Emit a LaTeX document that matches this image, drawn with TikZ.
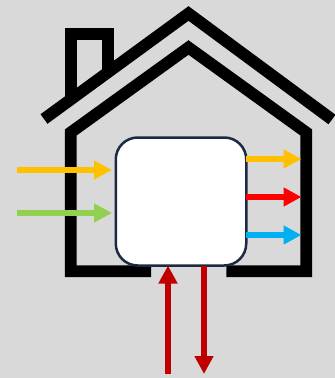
\documentclass[tikz,border=0pt]{standalone}
\usetikzlibrary{arrows.meta}
\definecolor{bgc}{HTML}{D9D9D9}
\definecolor{boxc}{HTML}{1B2A41}
\definecolor{inyel}{HTML}{FFC000}
\definecolor{ingrn}{HTML}{92D050}
\definecolor{outred}{HTML}{FF0000}
\definecolor{outblu}{HTML}{00B0F0}
\definecolor{drk}{HTML}{C00000}
\tikzset{
  housepart/.style={draw=black,line width=11.8pt,miter limit=10,line join=miter,line cap=butt},
  flow/.style={line width=6.8pt,-{Triangle[length=18pt,width=18pt]}},
  unitbox/.style={draw=boxc,fill=white,line width=2.5pt,rounded corners=22pt,minimum width=130.5pt,minimum height=128pt,inner sep=0pt,outer sep=0pt}
}
\begin{document}
\begin{tikzpicture}[x=1pt,y=-1pt]
\useasboundingbox[fill=bgc] (0,0) rectangle (335,378);
% chimney and roof
\draw[housepart] (70.7,100) -- (70.7,34.3) -- (108.2,34.3) -- (108.2,72);
\draw[housepart] (44,119) -- (188.5,13.5) -- (332,119.5);
% house walls
\draw[housepart] (151,271.3) -- (70.7,271.3) -- (70.7,132.5) -- (188.5,47.5) -- (306.3,132.5) -- (306.3,271.3) -- (226.3,271.3);
% unit
\node[unitbox] (unit) at (181,201.5) {};
% free ends
\coordinate (inA) at (17,170);
\coordinate (inAend) at (112,170);
\coordinate (inB) at (17,213);
\coordinate (inBend) at (112,213);
\coordinate (outA) at (301.5,159);
\coordinate (outB) at (301.5,197);
\coordinate (outC) at (301.5,235);
\coordinate (gridIn) at (168,374);
\coordinate (gridOut) at (204,374);
% flows
\draw[flow,inyel] (inA) -- (inAend);
\draw[flow,ingrn] (inB) -- (inBend);
\draw[flow,inyel] (unit.east |- outA) -- (outA);
\draw[flow,outred] (unit.east |- outB) -- (outB);
\draw[flow,outblu] (unit.east |- outC) -- (outC);
\draw[flow,drk] (gridIn) -- (gridIn |- unit.south);
\draw[flow,drk] (gridOut |- unit.south) -- (gridOut);
\end{tikzpicture}
\end{document}
